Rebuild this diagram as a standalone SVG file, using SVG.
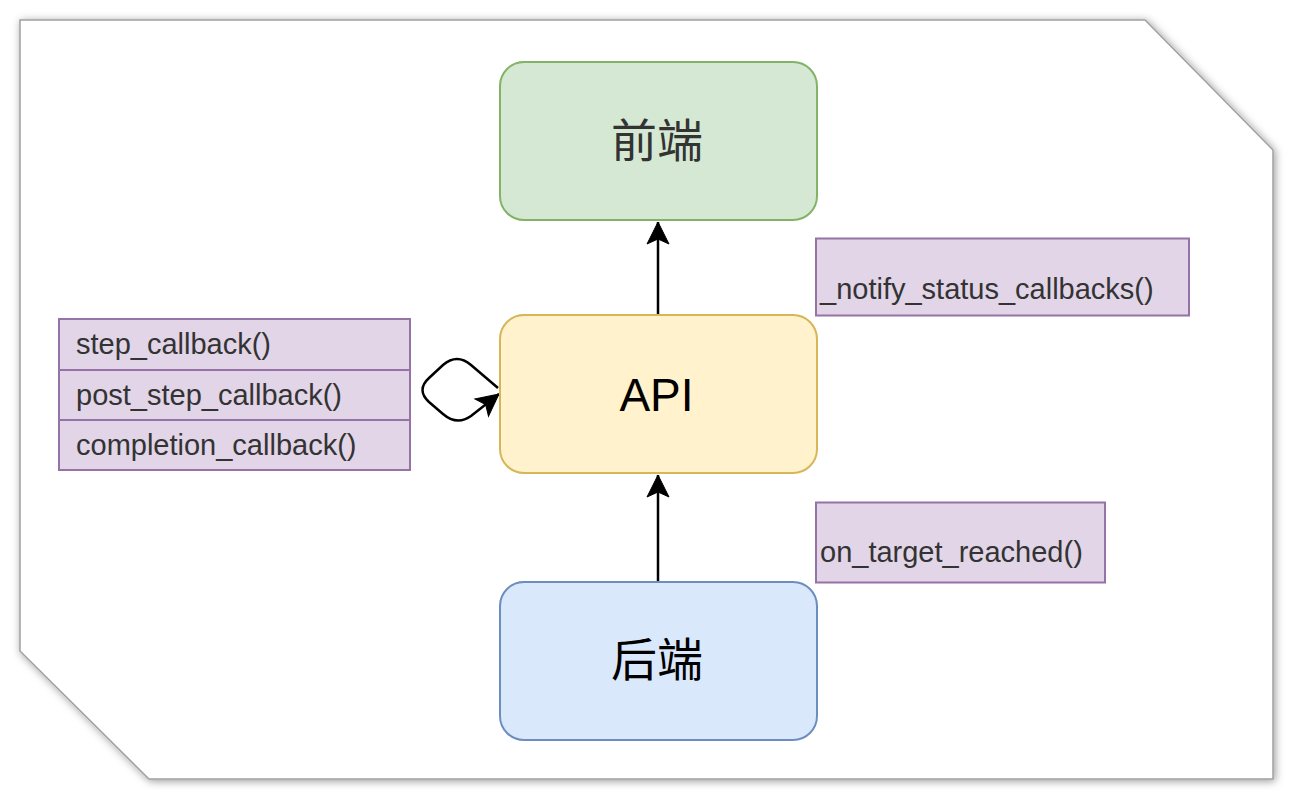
<svg xmlns="http://www.w3.org/2000/svg" width="1295" height="801" viewBox="0 0 1295 801">
  <style>
    .node { stroke-width: 2; }
    .big { font-family: "Liberation Sans", "Noto Sans CJK SC", Arial, sans-serif; font-size: 46px; text-anchor: middle; }
    .cjk { font-family: "Noto Sans CJK SC", "Liberation Sans", sans-serif; font-size: 46px; text-anchor: middle; }
    .small { font-family: "Liberation Sans", Arial, sans-serif; font-size: 29px; fill: #333333; }
    .purple { fill: #e1d5e7; stroke: #9673a6; stroke-width: 2; }
    .edge { fill: none; stroke: #000000; stroke-width: 2.5; }
  </style>
  <defs>
    <filter id="shadow" x="-5%" y="-5%" width="110%" height="110%">
      <feDropShadow dx="1.5" dy="1.5" stdDeviation="4" flood-color="#000000" flood-opacity="0.4"/>
    </filter>
    <marker id="arrow" markerUnits="userSpaceOnUse" viewBox="-24 -13 26 26" refX="0" refY="0" markerWidth="26" markerHeight="26" orient="auto">
      <path d="M0,0 L-22,-11 L-17,0 L-22,11 Z" fill="#000000" stroke="#000000" stroke-width="1" stroke-linejoin="miter"/>
    </marker>
  </defs>

  <rect x="0" y="0" width="1295" height="801" fill="#ffffff"/>

  <g id="frame">
    <polygon points="20,20 1145,20 1273,150 1273,779 149,779 20,651" fill="#ffffff" stroke="#a0a0a0" stroke-width="1.5" filter="url(#shadow)"/>
  </g>

  <g id="connectors">
    <line class="edge" x1="658" y1="315" x2="658" y2="222" marker-end="url(#arrow)"/>
    <line class="edge" x1="658" y1="582" x2="658" y2="475" marker-end="url(#arrow)"/>
    <path class="edge" d="M498,388 L471,365 Q457,353 443,365 L429,378 Q416,390 429,402 L443,414 Q457,426 471,416 L499,394" marker-end="url(#arrow)"/>
  </g>

  <g id="frontend">
    <rect class="node" x="500" y="62" width="317" height="158" rx="24" ry="24" fill="#d5e8d4" stroke="#82b366"/>
    <text class="cjk" x="657" y="157" fill="#333333">前端</text>
  </g>

  <g id="api">
    <rect class="node" x="500" y="315" width="317" height="158" rx="24" ry="24" fill="#fff2cc" stroke="#d6b656"/>
    <text class="big" x="656.5" y="411" fill="#000000">API</text>
  </g>

  <g id="backend">
    <rect class="node" x="500" y="582" width="317" height="158" rx="24" ry="24" fill="#dae8fc" stroke="#6c8ebf"/>
    <text class="cjk" x="657" y="676" fill="#000000">后端</text>
  </g>

  <g id="callbacks">
    <rect class="purple" x="59" y="319" width="351" height="51"/>
    <rect class="purple" x="59" y="370" width="351" height="50"/>
    <rect class="purple" x="59" y="420" width="351" height="50"/>
    <text class="small" x="76" y="354">step_callback()</text>
    <text class="small" x="76" y="405">post_step_callback()</text>
    <text class="small" x="76" y="455">completion_callback()</text>
  </g>

  <g id="notify">
    <rect class="purple" x="816" y="238.5" width="373" height="77"/>
    <text class="small" x="820" y="299">_notify_status_callbacks()</text>
  </g>

  <g id="target">
    <rect class="purple" x="816" y="502.5" width="289" height="80"/>
    <text class="small" x="820" y="562">on_target_reached()</text>
  </g>
</svg>
